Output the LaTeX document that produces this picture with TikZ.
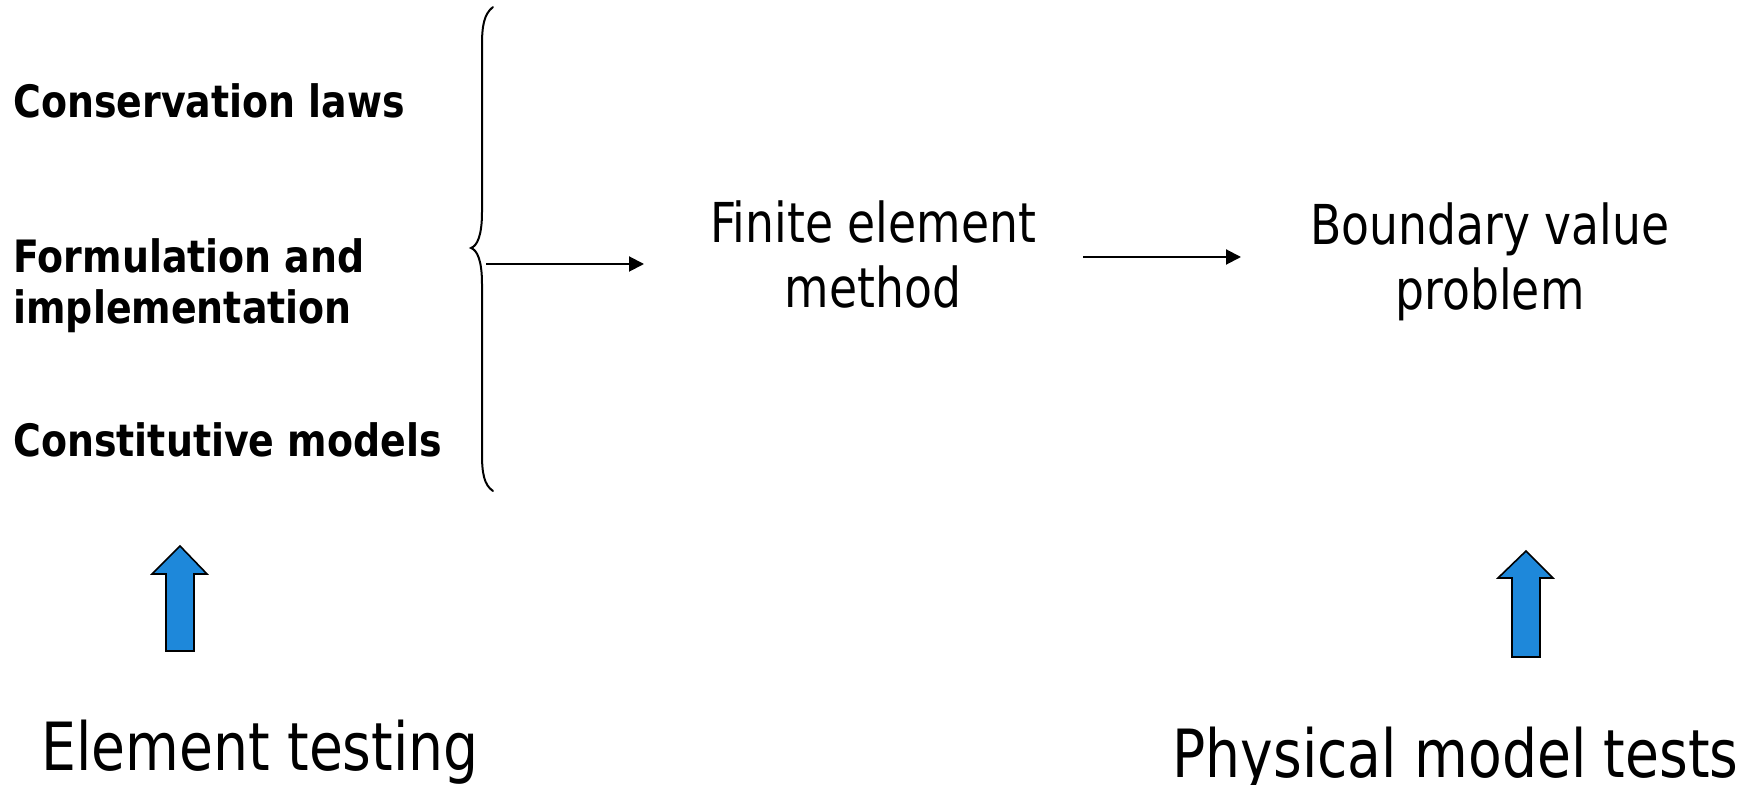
\documentclass[tikz,border=0pt]{standalone}
\usepackage{fontspec}
\setmainfont[FakeStretch=0.83]{DejaVu Sans}
\newfontfamily\boldface[FakeStretch=0.85]{DejaVu Sans Bold}
\usetikzlibrary{arrows.meta}
\definecolor{upblue}{RGB}{30,136,218}
\tikzset{
  lawtext/.style={anchor=base west, inner sep=0pt,
    font=\boldface\fontsize{22.3}{25.5}\selectfont},
  stagetext/.style={anchor=base, inner sep=0pt,
    font=\fontsize{27.5}{32.5}\selectfont},
  testtext/.style={anchor=base west, inner sep=0pt,
    font=\fontsize{33.25}{40}\selectfont},
  flow/.style={line width=1pt, -{Triangle[length=7.5pt, width=7.5pt]}},
  bracestroke/.style={line width=1pt, line cap=round},
  uparrow/.style={draw=black, line width=0.8pt, fill=upblue, line join=miter},
}
\newcommand{\lines}[2]{\begin{tabular}[t]{@{}#1@{}}#2\end{tabular}}
\begin{document}
\begin{tikzpicture}[x=0.5pt, y=-0.5pt]
  \useasboundingbox (0,0) rectangle (1758,785);

  % governing ingredients
  \node[lawtext] (cons) at (13,118) {Conservation laws};
  \node[lawtext] (form) at (13,273) {\lines{l}{Formulation and\\implementation}};
  \node[lawtext] (const) at (13,457) {Constitutive models};

  % curly brace gathering the ingredients
  \coordinate (tip) at (471,248);
  \draw[bracestroke] (493,7) .. controls (484,14) and (482,26) .. (482,45)
    -- (482,212) .. controls (482,236) and (477,246) .. (tip)
    .. controls (477,250) and (482,260) .. (482,284)
    -- (482,454) .. controls (482,473) and (484,485) .. (493,491);

  % analysis stages
  \node[stagetext] (fem) at (873,243) {\lines{c}{Finite element\\method}};
  \node[stagetext] (bvp) at (1490,245) {\lines{c}{Boundary value\\problem}};

  \coordinate (a1s) at (486,264);
  \coordinate (a1e) at (644,264);
  \draw[flow] (a1s) -- (a1e);
  \coordinate (a2s) at (1083,257);
  \coordinate (a2e) at (1241,257);
  \draw[flow] (a2s) -- (a2e);

  % testing sources
  \node[testtext] (elt) at (41,771) {Element testing};
  \node[testtext] (phys) at (1172,778) {Physical model tests};

  % block arrows
  \draw[uparrow] (166,651) -- (166,574) -- (152,574) -- (180,546)
    -- (207,574) -- (194,574) -- (194,651) -- cycle;
  \draw[uparrow] (1512,657) -- (1512,578) -- (1498,578) -- (1526,551)
    -- (1553,578) -- (1540,578) -- (1540,657) -- cycle;
\end{tikzpicture}
\end{document}
